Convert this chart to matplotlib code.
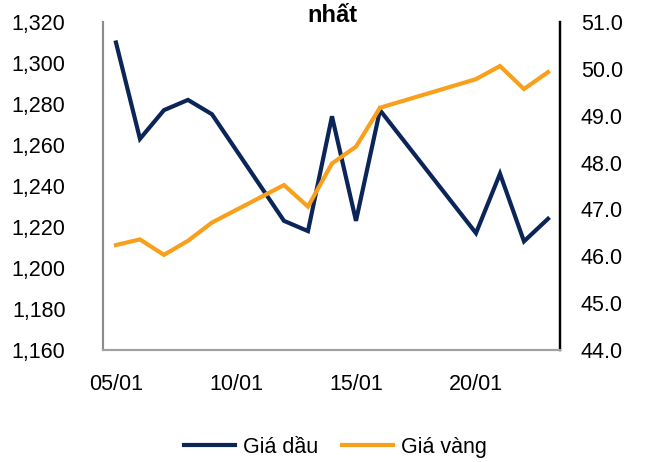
import matplotlib.pyplot as plt

plt.rcParams['font.family'] = ['Liberation Sans', 'DejaVu Sans']

# ngày giao dịch trong tháng 01
days = [5, 6, 7, 8, 9, 12, 13, 14, 15, 16, 20, 21, 22, 23]
oil = [1310, 1263, 1277, 1282, 1275, 1223, 1218, 1274, 1223, 1277, 1217, 1246, 1213, 1224]
gold = [46.24, 46.36, 46.03, 46.33, 46.72, 47.52, 47.06, 47.98, 48.34, 49.17, 49.78, 50.06, 49.57, 49.93]

tick_days = [5, 10, 15, 20]
tick_labels = ['05/01', '10/01', '15/01', '20/01']
left_ticks = list(range(1160, 1321, 20))
right_ticks = [44.0, 45.0, 46.0, 47.0, 48.0, 49.0, 50.0, 51.0]

fs = 15.5

fig = plt.figure(figsize=(6.46, 4.62), dpi=100)
ax = fig.add_axes([103 / 646, 1 - 350 / 462, 457 / 646, 328 / 462])
ax2 = ax.twinx()

l1, = ax.plot(days, oil, color='#0b2559', lw=3, label='Giá dầu', solid_joinstyle='miter')
l2, = ax2.plot(days, gold, color='#f8a01c', lw=3, label='Giá vàng', solid_joinstyle='miter')

ax.set_xlim(4.46, 23.5)
ax.set_ylim(1160, 1320)
ax2.set_ylim(44, 51)
ax.set_xticks(tick_days)
ax.set_xticklabels(tick_labels)
ax.set_yticks(left_ticks)
ax.set_yticklabels([f'{v:,}' for v in left_ticks])
ax2.set_yticks(right_ticks)
ax2.set_yticklabels([f'{v:.1f}' for v in right_ticks])

ax.tick_params(axis='x', length=0, pad=17, labelsize=fs)
ax.tick_params(axis='y', length=0, pad=27, labelsize=fs)
ax2.tick_params(axis='y', length=0, pad=15, labelsize=fs)

for a in (ax, ax2):
    a.spines['top'].set_visible(False)
    a.spines['left'].set_color('#8c8c8c')
    a.spines['bottom'].set_color('#a0a0a0')
    a.spines['left'].set_linewidth(1.5)
    a.spines['bottom'].set_linewidth(1.5)
    a.spines['right'].set_color('black')
    a.spines['right'].set_linewidth(1.6)

fig.text(0.514, 0.992, 'nhất', ha='center', va='top', fontsize=17, fontweight='bold')

fig.legend(handles=[l1, l2], loc='center', bbox_to_anchor=(0.519, 0.032), ncol=2,
           frameon=False, fontsize=fs, handlelength=2.4, handletextpad=0.35,
           columnspacing=1.1)

fig.savefig('out.png', dpi=100)
